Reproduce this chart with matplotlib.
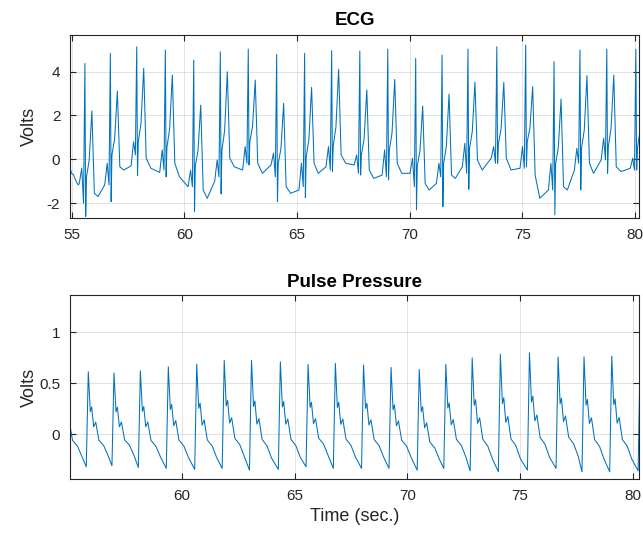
import matplotlib.pyplot as plt

plt.rcParams['font.family'] = ['Liberation Sans', 'DejaVu Sans']
plt.rcParams['axes.unicode_minus'] = False

# ---- ECG, read beat by beat from the picture ----
# R spike time (s), spike top, trough after spike, ST level, T wave top (volts)
ecg_r_time = [55.59, 56.72, 57.89, 59.16, 60.42, 61.60, 62.84, 64.10, 65.34, 66.54, 67.79,
              69.03, 70.27, 71.44, 72.59, 73.87, 75.15, 76.41, 77.56, 78.75, 80.04]
ecg_r_peak = [4.37, 4.83, 5.13, 4.98, 4.52, 4.90, 5.02, 4.78, 4.83, 4.95, 4.93,
              5.02, 4.60, 4.75, 5.02, 5.13, 5.21, 4.45, 4.98, 5.02, 5.02]
ecg_s_low = [-2.61, -1.93, -0.75, -0.80, -2.39, -1.58, -0.26, -1.93, -1.75, -0.56, -0.72,
             -0.94, -2.31, -2.16, -1.37, -0.18, -0.34, -2.53, -1.40, -0.64, -0.49]
ecg_st = [-0.8, 0.2, 0.8, 0.55, -0.3, 0.4, 0.8, -0.2, 0.1, 0.6, 0.2,
          0.4, -0.3, -0.2, 0.5, 0.7, 0.8, -0.2, 0.5, 0.6, 0.5]
ecg_t_peak = [2.21, 3.11, 4.15, 3.84, 2.47, 3.99, 3.61, 2.55, 3.28, 4.10, 3.16,
              3.64, 2.43, 2.97, 3.51, 3.51, 3.31, 2.75, 3.81, 3.84, 3.80]
# level before each spike, small bump just before it, dip right before the spike
ecg_pre = [-1.10, -1.17, -0.30, -0.60, -1.25, -1.00, -0.49, -0.26, -1.40, -0.34, -0.26,
           -0.72, -0.64, -1.10, -0.34, 0.05, -0.41, -1.40, -0.50, -0.03, -0.41]
ecg_bump = [-0.41, -0.18, 0.80, 0.43, -0.50, -0.03, 0.58, 0.28, -0.18, 0.58, 0.20,
            0.43, 0.05, -0.18, 0.73, 0.58, 0.58, -0.18, 0.50, 0.96, 0.05]
ecg_q = [-2.00, -1.17, 0.20, -0.49, -1.25, -0.80, -0.18, -0.80, -1.25, -0.49, -0.64,
         -0.80, -1.25, -0.80, -0.64, -0.18, -0.41, -1.40, -0.18, -0.03, -0.49]
# after each T wave: level right after the drop, lowest level of the pause
ecg_post = [-1.55, -0.34, 0.05, -0.18, -1.40, 0.05, -0.18, -1.25, -0.18, 0.20,
            -0.49, -0.18, -1.10, -0.72, -0.03, 0.05, -0.72, -1.25, -0.18, -0.34]
ecg_pause = [-1.70, -0.49, -0.41, -0.80, -1.78, -0.34, -0.64, -1.55, -0.64, -0.18,
             -0.87, -0.64, -1.40, -0.87, -0.49, -0.49, -1.78, -1.40, -0.64, -0.56]
# start of the record, before the first beat
ecg_lead_t = [54.93, 55.00, 55.08, 55.15, 55.22, 55.30]
ecg_lead_v = [-0.41, -0.64, -0.70, -0.87, -1.05, -1.17]

# ---- Pulse pressure ----
pp_peak_time = [54.68, 55.85, 56.99, 58.16, 59.40, 60.66, 61.88, 63.09, 64.37, 65.60, 66.81,
                68.06, 69.28, 70.53, 71.71, 72.88, 74.13, 75.42, 76.69, 77.84, 79.07, 80.33]
pp_peak = [0.62, 0.614, 0.604, 0.624, 0.663, 0.689, 0.725, 0.725, 0.712, 0.686, 0.696,
           0.680, 0.657, 0.637, 0.686, 0.750, 0.786, 0.800, 0.760, 0.760, 0.767, 0.760]
pp_foot = [-0.32, -0.317, -0.307, -0.324, -0.333, -0.343, -0.333, -0.350, -0.343, -0.317, -0.333,
           -0.333, -0.333, -0.350, -0.333, -0.357, -0.366, -0.350, -0.333, -0.366, -0.366, -0.357]
# one beat's shape after the peak (seconds after peak, fraction of foot->peak height)
pp_shape_dt = [0.0, 0.09, 0.15, 0.24, 0.33, 0.47, 0.69, 0.89]
pp_shape_frac = [1.0, 0.58, 0.63, 0.42, 0.47, 0.28, 0.22, 0.11]

# build the ECG trace
ecg_t = list(ecg_lead_t)
ecg_v = list(ecg_lead_v)
for k, r in enumerate(ecg_r_time):
    if k > 0:
        t_post = ecg_r_time[k - 1] + 0.42
        t_pre = r - 0.25
        ecg_t += [t_post, t_post + 0.35 * (t_pre - t_post)]
        ecg_v += [ecg_post[k - 1], ecg_pause[k - 1]]
    st, tw = ecg_st[k], ecg_t_peak[k]
    ecg_t += [r - 0.25, r - 0.14, r - 0.06, r, r + 0.035, r + 0.07, r + 0.19, r + 0.31]
    ecg_v += [ecg_pre[k], ecg_bump[k], ecg_q[k], ecg_r_peak[k], ecg_s_low[k], st,
              st + 0.25 * (tw - st), tw]

# build the pressure trace
pp_t, pp_v = [], []
for p, hi, lo in zip(pp_peak_time, pp_peak, pp_foot):
    pp_t.append(p - 0.09)
    pp_v.append(lo)
    for dt, f in zip(pp_shape_dt, pp_shape_frac):
        pp_t.append(p + dt)
        pp_v.append(lo + f * (hi - lo))

line_col = '#0072BD'
ax_col = '#262626'

fig = plt.figure(figsize=(6.43, 5.37), dpi=100)
ax1 = fig.add_axes([0.1089, 0.5935, 0.8849, 0.3419])
ax2 = fig.add_axes([0.1089, 0.1074, 0.8849, 0.3432])

ax1.plot(ecg_t, ecg_v, color=line_col, lw=0.75)
ax2.plot(pp_t, pp_v, color=line_col, lw=0.75)

ax1.set_xlim(54.93, 80.18)
ax1.set_ylim(-2.69, 5.68)
ax1.set_xticks([55, 60, 65, 70, 75, 80])
ax1.set_yticks([-2, 0, 2, 4])
ax1.set_title('ECG', fontsize=13.5, fontweight='bold', pad=7)

ax2.set_xlim(55.04, 80.28)
ax2.set_ylim(-0.44, 1.366)
ax2.set_xticks([60, 65, 70, 75, 80])
ax2.set_yticks([0, 0.5, 1])
ax2.set_yticklabels(['0', '0.5', '1'])
ax2.set_title('Pulse Pressure', fontsize=13.5, fontweight='bold', pad=5.8)
ax2.set_xlabel('Time (sec.)', fontsize=13, color=ax_col, labelpad=3.5)

for ax in (ax1, ax2):
    ax.set_ylabel('Volts', fontsize=13, color=ax_col)
    ax.yaxis.set_label_coords(-0.056, 0.5)
    ax.grid(True, color=ax_col, alpha=0.15, lw=0.6)
    ax.tick_params(direction='in', top=True, right=True, length=4.3, width=0.8,
                   colors=ax_col, labelsize=11, pad=7)
    for s in ax.spines.values():
        s.set_color(ax_col)
        s.set_linewidth(0.8)

fig.savefig('out.png', dpi=100)
